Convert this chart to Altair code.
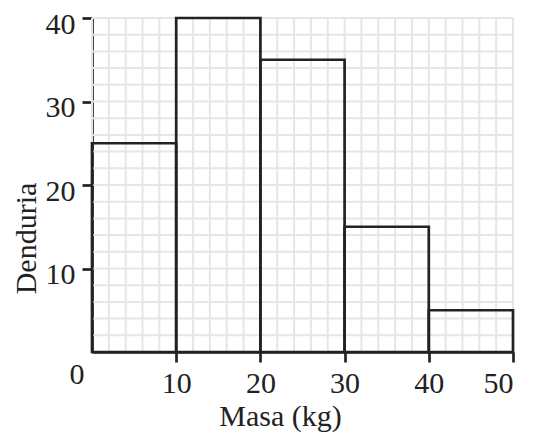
import altair as alt
import pandas as pd

# Histogram data
bin_start = [0, 10, 20, 30, 40]
bin_end = [10, 20, 30, 40, 50]
freq = [25, 40, 35, 15, 5]

x_ticks = [10, 20, 30, 40, 50]
y_ticks = [10, 20, 30, 40]
grid_x = list(range(0, 51, 2))
grid_y = list(range(0, 41, 2))

x_title = "Masa (kg)"
y_title = "Denduria"

FONT = "Liberation Serif"
FS = 30
INK = "#222222"
W, H = 421, 334

bars = pd.DataFrame({"start": bin_start, "end": bin_end, "freq": freq})
gx = pd.DataFrame({"g": grid_x})
gy = pd.DataFrame({"g": grid_y})
origin = pd.DataFrame({"x": [0], "y": [0], "t": ["0"]})

xscale = alt.Scale(domain=[0, 50], nice=False, zero=False)
yscale = alt.Scale(domain=[0, 40], nice=False)

xaxis = alt.Axis(values=x_ticks, title=x_title, grid=False, orient="bottom",
                 labelPadding=6, labelBaseline="top",
                 titleX=188, titleY=73, titleBaseline="alphabetic",
                 titleAnchor="middle", titleAlign="center")
yaxis = alt.Axis(values=y_ticks, title=y_title, grid=False, orient="left",
                 labelPadding=7, labelOffset=6, labelBaseline="middle",
                 titleX=-57, titleY=220, titleBaseline="alphabetic",
                 titleAlign="center")

grid_v = alt.Chart(gx).mark_rule(color="#e6e6e6", strokeWidth=2).encode(
    x=alt.X("g:Q", scale=xscale, axis=xaxis),
    y=alt.value(0), y2=alt.value(H),
)
grid_h = alt.Chart(gy).mark_rule(color="#e6e6e6", strokeWidth=2).encode(
    y=alt.Y("g:Q", scale=yscale, axis=yaxis),
    x=alt.value(0), x2=alt.value(W),
)

rects = alt.Chart(bars).mark_rect(fill=None, fillOpacity=0, stroke=INK, strokeWidth=2.7).encode(
    x=alt.X("start:Q", scale=xscale, axis=xaxis),
    x2="end:Q",
    y=alt.Y("freq:Q", scale=yscale, axis=yaxis),
    y2=alt.datum(0),
)

zero_label = alt.Chart(origin).mark_text(
    font=FONT, fontSize=FS, color=INK, dx=-15, dy=23, baseline="middle", align="center"
).encode(
    x=alt.X("x:Q", scale=xscale, axis=xaxis),
    y=alt.Y("y:Q", scale=yscale, axis=yaxis),
    text="t:N",
)

chart = alt.layer(grid_v, grid_h, rects, zero_label).properties(
    width=W, height=H,
    autosize=alt.AutoSizeParams(type="none"),
    padding={"left": 84, "top": 10, "right": 15, "bottom": 81},
).configure_view(stroke=None).configure_axis(
    labelFont=FONT, titleFont=FONT, labelFontSize=FS, titleFontSize=FS,
    labelColor=INK, titleColor=INK, titleFontWeight="normal",
    domainColor=INK, domainWidth=2.7, tickColor=INK, tickWidth=2.7, tickSize=10,
)

chart.save("out.html", embed_options={"renderer": "svg", "actions": False})
